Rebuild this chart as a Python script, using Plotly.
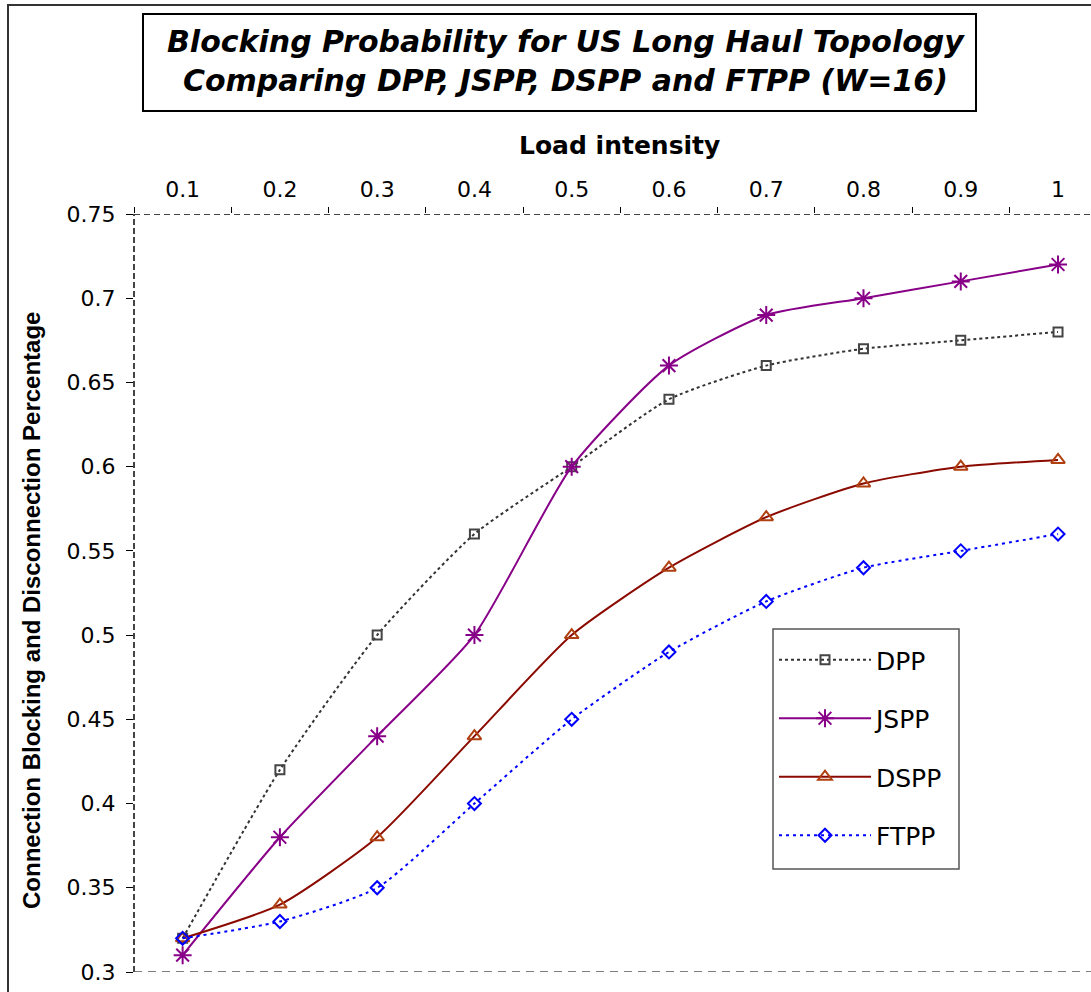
import plotly.graph_objects as go

# Load intensity values (x) and blocking results for each protection scheme
loads = [0.1, 0.2, 0.3, 0.4, 0.5, 0.6, 0.7, 0.8, 0.9, 1.0]
load_labels = ["0.1", "0.2", "0.3", "0.4", "0.5", "0.6", "0.7", "0.8", "0.9", "1"]

dpp = [0.32, 0.42, 0.50, 0.56, 0.60, 0.64, 0.66, 0.67, 0.675, 0.68]
jspp = [0.31, 0.38, 0.44, 0.50, 0.60, 0.66, 0.69, 0.70, 0.71, 0.72]
dspp = [0.32, 0.34, 0.38, 0.44, 0.50, 0.54, 0.57, 0.59, 0.60, 0.604]
ftpp = [0.32, 0.33, 0.35, 0.40, 0.45, 0.49, 0.52, 0.54, 0.55, 0.56]

y_ticks = [0.3, 0.35, 0.4, 0.45, 0.5, 0.55, 0.6, 0.65, 0.7, 0.75]
y_labels = ["0.3", "0.35", "0.4", "0.45", "0.5", "0.55", "0.6", "0.65", "0.7", "0.75"]

W, H = 1091, 992
ML, MT, MB = 134, 214, 20
PW, PH = W - ML, H - MT - MB


def px_x(p):
    return (p - ML) / PW


def px_y(p):
    return (H - MB - p) / PH


FONT = "DejaVu Sans"

fig = go.Figure()

series = [
    ("DPP", dpp, dict(color="#333333", width=2, dash="dot"),
     dict(symbol="square-open", size=9, color="#444444", line=dict(width=2, color="#444444")), "g1"),
    ("JSPP", jspp, dict(color="#880088", width=2),
     dict(symbol="asterisk-open", size=15, color="#880088", line=dict(width=2, color="#880088")), "g2"),
    ("DSPP", dspp, dict(color="#8B0A00", width=2),
     dict(symbol="triangle-up-open", size=12, color="#B04010", line=dict(width=2, color="#B04010")), "g3"),
    ("FTPP", ftpp, dict(color="#0000FF", width=2, dash="3px,4px"),
     dict(symbol="diamond-open", size=10, color="#0000FF", line=dict(width=2, color="#0000FF")), "g4"),
]

for name, vals, line, marker, grp in series:
    fig.add_trace(go.Scatter(
        x=loads, y=vals, name=name, mode="lines+markers",
        line=dict(shape="spline", smoothing=0.6, **line),
        marker=marker, legendgroup=grp,
    ))

shapes = [
    # outer chart frame
    dict(type="rect", xref="paper", yref="paper",
         x0=px_x(8), x1=px_x(1200), y0=px_y(1100), y1=px_y(5),
         line=dict(color="#333333", width=2)),
    # title box
    dict(type="rect", xref="paper", yref="paper",
         x0=px_x(143), x1=px_x(976), y0=px_y(111), y1=px_y(14),
         line=dict(color="black", width=2), fillcolor="white", layer="below"),
    # dashed plot-area borders
    dict(type="line", xref="paper", yref="y", x0=0, x1=1, y0=0.75, y1=0.75,
         line=dict(color="#444444", width=2, dash="6px,4px")),
    dict(type="line", xref="paper", yref="y", x0=0, x1=1, y0=0.3, y1=0.3,
         line=dict(color="#555555", width=1.5, dash="8px,6px")),
    dict(type="line", xref="paper", yref="y", x0=0, x1=0, y0=0.3, y1=0.75,
         line=dict(color="#444444", width=2, dash="6px,3px")),
    # legend frame
    dict(type="rect", xref="paper", yref="paper",
         x0=px_x(773), x1=px_x(959), y0=px_y(869), y1=px_y(629),
         line=dict(color="#555555", width=1.5), fillcolor="white", layer="above"),
]

annotations = [
    dict(text="<b><i>Blocking Probability for US Long Haul Topology<br>"
              "Comparing DPP, JSPP, DSPP and FTPP (W=16)</i></b>",
         xref="paper", yref="paper", x=px_x(566), y=px_y(61),
         xanchor="center", yanchor="middle", showarrow=False,
         font=dict(family=FONT, size=30, color="black")),
    dict(text="<b>Load intensity</b>", xref="paper", yref="paper",
         x=px_x(619), y=px_y(145), xanchor="center", yanchor="middle",
         showarrow=False, font=dict(family=FONT, size=25, color="black")),
    dict(text="<b>Connection Blocking and Disconnection Percentage</b>",
         xref="paper", yref="paper", x=px_x(31), y=px_y(611),
         xanchor="center", yanchor="middle", textangle=-90, showarrow=False,
         font=dict(family="Liberation Sans", size=24, color="black")),
]

fig.update_layout(
    width=W, height=H,
    margin=dict(l=ML, r=0, t=MT, b=MB, pad=0),
    paper_bgcolor="white", plot_bgcolor="white",
    shapes=shapes, annotations=annotations,
    showlegend=True,
    legend=dict(
        x=px_x(774), y=px_y(637), xanchor="left", yanchor="top",
        bgcolor="rgba(0,0,0,0)", borderwidth=0,
        font=dict(family=FONT, size=25, color="black"),
        tracegroupgap=23, itemwidth=92,
    ),
    xaxis=dict(
        side="top", range=[0.05, 1.0339], showgrid=False, zeroline=False,
        showline=False, tickmode="array", tickvals=loads, ticktext=load_labels,
        ticks="", ticklabelstandoff=12,
        tickfont=dict(family=FONT, size=22, color="black"),
        minor=dict(tickmode="linear", tick0=0.05, dtick=0.1, ticks="outside",
                   ticklen=6, tickcolor="black", tickwidth=1, showgrid=False),
    ),
    yaxis=dict(
        range=[0.3, 0.75], showgrid=False, zeroline=False, showline=False,
        tickmode="array", tickvals=y_ticks, ticktext=y_labels,
        ticks="outside", ticklen=7, tickcolor="black", tickwidth=1,
        ticklabelstandoff=6,
        tickfont=dict(family=FONT, size=22, color="black"),
    ),
)

fig.write_html("out.html")
